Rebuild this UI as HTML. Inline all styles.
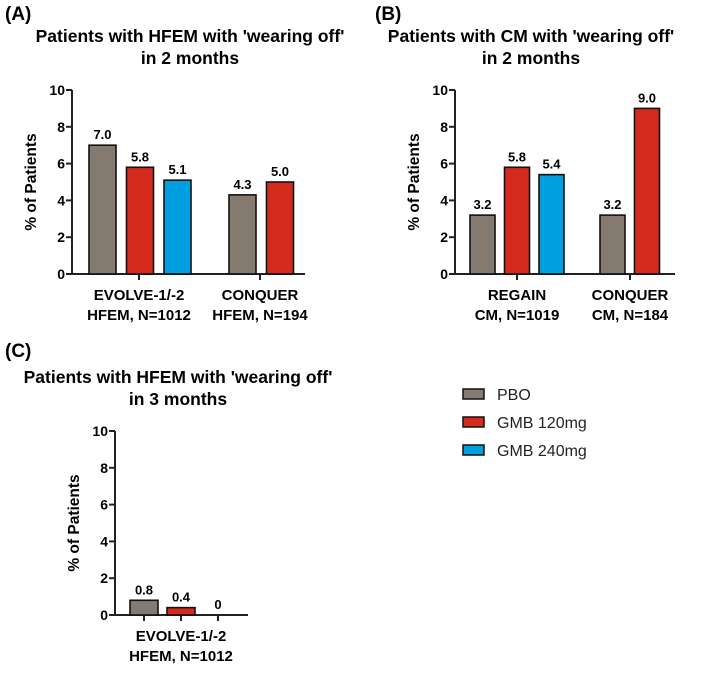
<!DOCTYPE html>
<html><head><meta charset="utf-8"><style>
body{margin:0;background:#fff;font-family:"Liberation Sans",Arial,sans-serif}
svg text{font-family:"Liberation Sans",Arial,sans-serif}
</style></head><body>
<svg id="fig" width="709" height="668" viewBox="0 0 709 668" xmlns="http://www.w3.org/2000/svg"></svg>
<script>
const seriesNames=["PBO","GMB 120mg","GMB 240mg"];
const seriesColors=["#857a70","#d52b1e","#009fdf"];
const yTicks=[0,2,4,6,8,10];
const aGroups=[["EVOLVE-1/-2","HFEM, N=1012"],["CONQUER","HFEM, N=194"]];
const aValues=[[7.0,5.8,5.1],[4.3,5.0]];
const bGroups=[["REGAIN","CM, N=1019"],["CONQUER","CM, N=184"]];
const bValues=[[3.2,5.8,5.4],[3.2,9.0]];
const cGroups=[["EVOLVE-1/-2","HFEM, N=1012"]];
const cValues=[[0.8,0.4,0]];

const NS="http://www.w3.org/2000/svg";
const svg=document.getElementById('fig');
function mk(tag,attrs,parent,text){const e=document.createElementNS(NS,tag);for(const k in attrs)e.setAttribute(k,attrs[k]);if(text!==undefined)e.textContent=text;(parent||svg).appendChild(e);return e;}

function panel(cfg){
  const g=mk('g',{});
  
  
  const y=v=>cfg.y0-(v/10)*(cfg.y0-cfg.y10);
  const lab=mk('text',{x:cfg.labelX,y:cfg.labelY,'font-size':19,'font-weight':'bold'},g,cfg.letter);
  
  
  cfg.title.forEach((t,i)=>{
    const e=mk('text',{x:cfg.titleX,y:cfg.titleY+i*22,'font-size':17.5,'font-weight':'bold','text-anchor':'middle'},g,t);
    
    
  });
  const ax=mk('line',{x1:cfg.ax,y1:cfg.y10,x2:cfg.ax,y2:cfg.y0+1,stroke:'#222','stroke-width':2},g);
  
  
  const xa=mk('line',{x1:cfg.ax-1,y1:cfg.y0,x2:cfg.xEnd,y2:cfg.y0,stroke:'#222','stroke-width':2},g);
  
  
  yTicks.forEach(t=>{
    mk('line',{x1:cfg.ax-6,y1:y(t),x2:cfg.ax,y2:y(t),stroke:'#222','stroke-width':2},g);
    const e=mk('text',{x:cfg.ax-7,y:y(t)+5,'font-size':14,'font-weight':'bold','text-anchor':'end'},g,String(t));
    
    
  });
  const yt=mk('text',{x:0,y:0,'font-size':15.5,'font-weight':'bold','text-anchor':'middle',transform:`translate(${cfg.ax-36},${(cfg.y0+cfg.y10)/2}) rotate(-90)`},g,'% of Patients');
  
  
  cfg.groups.forEach((gl,gi)=>{
    const vals=cfg.values[gi];
    const start=cfg.groupStart[gi];
    vals.forEach((v,si)=>{
      const x=start+si*cfg.step;
      const r=mk('rect',{x:x,y:y(v),width:cfg.bw,height:cfg.y0-y(v),fill:seriesColors[si],stroke:'#111','stroke-width':1.6},g);
      
      
      const t=mk('text',{x:x+cfg.bw/2,y:y(v)-6,'font-size':13,'font-weight':'bold','text-anchor':'middle'},g,v===0?'0':v.toFixed(1));
      
      
      if(cfg.tickEach) mk('line',{x1:x+cfg.bw/2,y1:cfg.y0,x2:x+cfg.bw/2,y2:cfg.y0+6,stroke:'#222','stroke-width':2},g);
    });
    const cx=cfg.tickEach?start+cfg.step+cfg.bw/2:cfg.groupTick[gi];
    if(!cfg.tickEach) mk('line',{x1:cx,y1:cfg.y0,x2:cx,y2:cfg.y0+6,stroke:'#222','stroke-width':2},g);
    gl.forEach((l,li)=>{
      const e=mk('text',{x:cx,y:cfg.y0+26+li*20,'font-size':15,'font-weight':'bold','text-anchor':'middle'},g,l);
      
      
    });
  });
}
panel({name:'panel-a',letter:'(A)',labelX:5,labelY:20,title:["Patients with HFEM with 'wearing off'","in 2 months"],titleX:190,titleY:42,
  ax:72,y0:274,y10:90,xEnd:305,bw:27,step:37.5,groups:aGroups,values:aValues,groupStart:[89,229],groupTick:[139,260]});
panel({name:'panel-b',letter:'(B)',labelX:375,labelY:20,title:["Patients with CM with 'wearing off'","in 2 months"],titleX:531,titleY:42,
  ax:455,y0:274,y10:90,xEnd:675,bw:25,step:34.5,groups:bGroups,values:bValues,groupStart:[470,600],groupTick:[517,630]});
panel({name:'panel-c',letter:'(C)',labelX:5,labelY:357,title:["Patients with HFEM with 'wearing off'","in 3 months"],titleX:178,titleY:383,
  ax:115,y0:615,y10:431,xEnd:248,bw:28,step:37,groups:cGroups,values:cValues,groupStart:[130],tickEach:true});

const lg=mk('g',{});


const legendY=[394,422,450];
seriesNames.forEach((n,i)=>{
  const r=mk('rect',{x:463,y:legendY[i]-5,width:21,height:10,fill:seriesColors[i],stroke:'#111','stroke-width':1.5},lg);
  
  
  const t=mk('text',{x:497,y:legendY[i]+6,'font-size':16,fill:'#222'},lg,n);
  
  
});
</script>
</body></html>
